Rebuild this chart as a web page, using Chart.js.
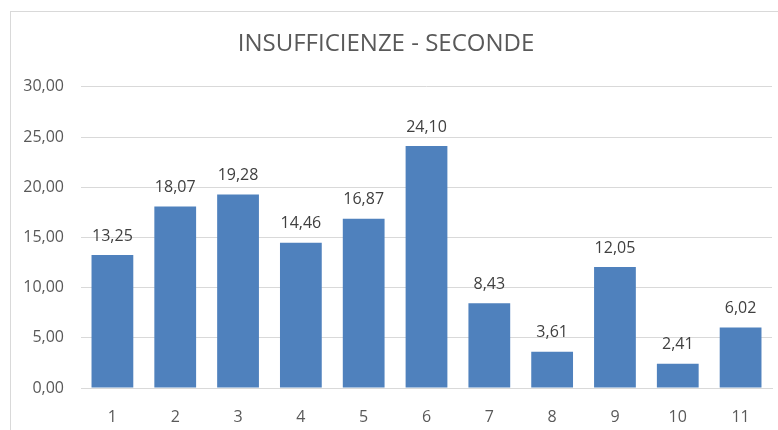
<!DOCTYPE html>
<html>
<head>
<meta charset="utf-8">
<script src="https://cdn.jsdelivr.net/npm/chart.js@4/dist/chart.umd.min.js"></script>
<style>
  html, body { margin: 0; padding: 0; background: #fff; }
  #wrap { position: relative; width: 778px; height: 430px; overflow: hidden; }
  #cornice {
    position: absolute; left: 10px; top: 11px; width: 800px; height: 450px;
    border-left: 1px solid #d9d9d9; border-top: 1px solid #d9d9d9;
  }
  canvas { position: absolute; left: 0; top: 0; }
</style>
</head>
<body>
<div id="wrap">
  <div id="cornice"></div>
  <canvas id="grafico" width="778" height="430"></canvas>
</div>
<script>
// Dati del grafico
const classi  = ["1", "2", "3", "4", "5", "6", "7", "8", "9", "10", "11"];
const valori  = [13.25, 18.07, 19.28, 14.46, 16.87, 24.10, 8.43, 3.61, 12.05, 2.41, 6.02];
const titolo  = "INSUFFICIENZE - SECONDE";
const yMax    = 30;
const yPasso  = 5;

const FONT = "'Open Sans', 'Liberation Sans', sans-serif";
const formatta = v => Number(v).toFixed(2).replace(".", ",");

// Etichette sopra le barre
const etichette = {
  id: "etichette",
  afterDatasetsDraw(chart) {
    const ctx = chart.ctx;
    const meta = chart.getDatasetMeta(0);
    ctx.save();
    ctx.font = "16px " + FONT;
    ctx.fillStyle = "#404040";
    ctx.textAlign = "center";
    ctx.textBaseline = "middle";
    meta.data.forEach((bar, i) => {
      ctx.fillText(formatta(valori[i]), bar.x, bar.y - 19);
    });
    ctx.restore();
  }
};

new Chart(document.getElementById("grafico"), {
  type: "bar",
  data: {
    labels: classi,
    datasets: [{
      data: valori,
      backgroundColor: "#4F81BD",
      borderWidth: 0,
      categoryPercentage: 1,
      barPercentage: 0.665,
    }],
  },
  options: {
    responsive: false,
    animation: false,
    layout: { padding: { left: 0, right: 6, top: 0, bottom: 0 } },
    plugins: {
      legend: { display: false },
      tooltip: { enabled: false },
      title: {
        display: true,
        text: titolo,
        color: "#595959",
        font: { family: FONT, size: 24, weight: "normal" },
        padding: { top: 30, bottom: 28 },
      },
    },
    scales: {
      x: {
        grid: { display: false },
        border: { color: "#d9d9d9" },
        ticks: { color: "#595959", font: { family: FONT, size: 16 }, padding: 12 },
        afterFit: s => { s.height = 42; },
      },
      y: {
        min: 0,
        max: yMax,
        border: { display: false },
        grid: { color: "#d9d9d9", drawTicks: false },
        ticks: {
          stepSize: yPasso,
          color: "#595959",
          font: { family: FONT, size: 16 },
          padding: 17,
          callback: v => formatta(v),
        },
        afterFit: s => { s.width = 81; },
      },
    },
  },
  plugins: [etichette],
});
</script>
</body>
</html>
